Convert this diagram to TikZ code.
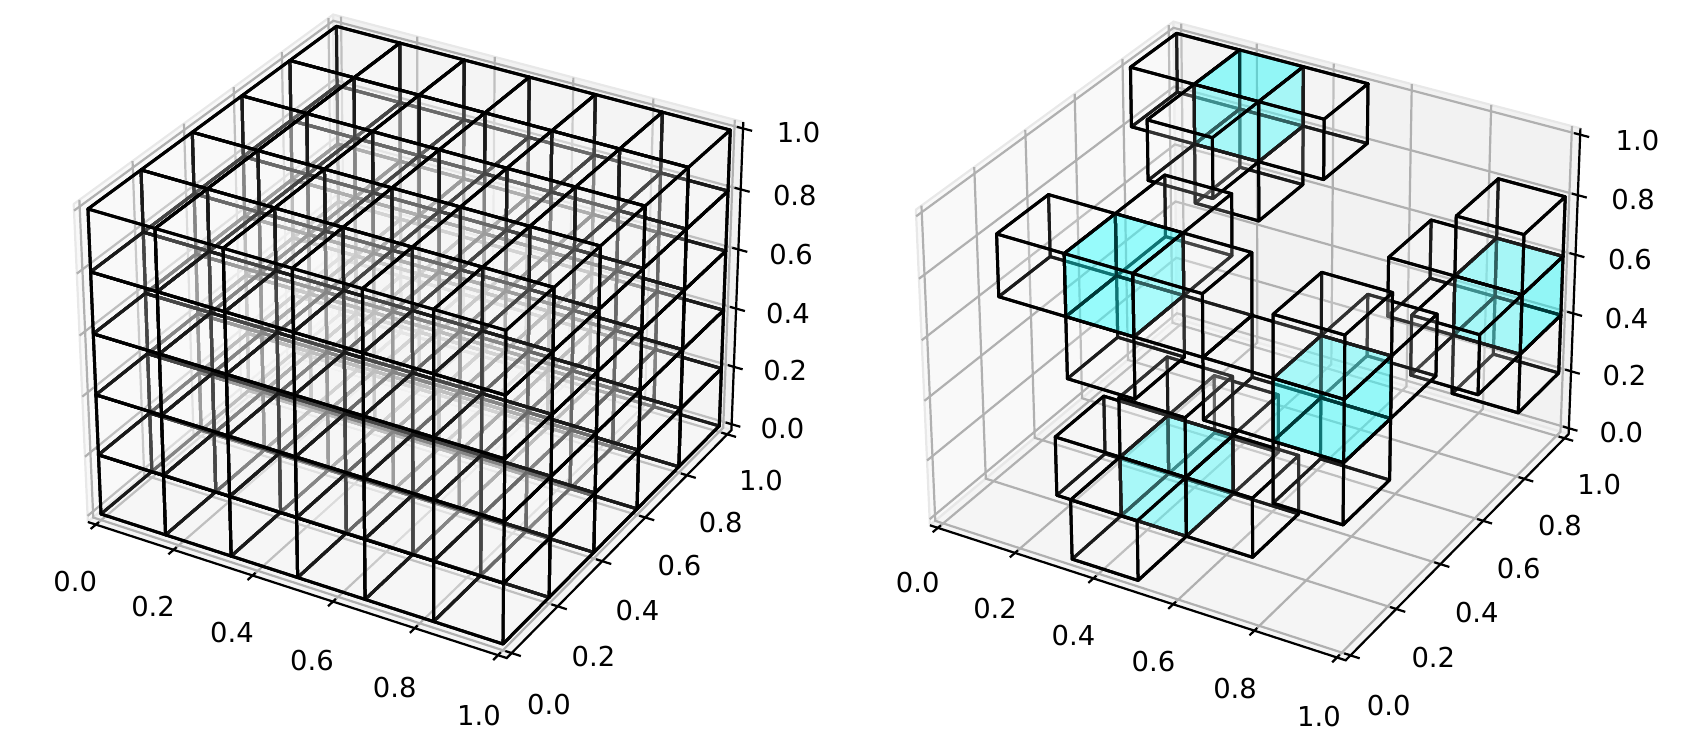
\documentclass[tikz,border=0pt]{standalone}
\usepackage{fontspec}
\setmainfont{DejaVu Sans}
\usepackage{xcolor}
\definecolor{ColPaneX}{RGB}{249,249,249}
\definecolor{ColPaneY}{RGB}{242,242,242}
\definecolor{ColPaneZ}{RGB}{245,245,245}
\definecolor{ColEdge}{RGB}{232,232,232}
\definecolor{ColGrid}{RGB}{176,176,176}
\definecolor{ColCyan}{RGB}{0,255,255}
\tikzstyle{PaneX}=[fill=ColPaneX,draw=ColEdge,line width=1.1pt,line join=round]
\tikzstyle{PaneY}=[fill=ColPaneY,draw=ColEdge,line width=1.1pt,line join=round]
\tikzstyle{PaneZ}=[fill=ColPaneZ,draw=ColEdge,line width=1.1pt,line join=round]
\tikzstyle{GridLine}=[draw=ColGrid,line width=1.1pt]
\tikzstyle{AxisLine}=[draw=black,line width=1.1pt]
\tikzstyle{TickLine}=[draw=black,line width=1.1pt]
\tikzstyle{TickLabel}=[font=\fontsize{13.7}{14}\selectfont,inner sep=0pt]
\tikzstyle{Cell}=[draw=black,line width=1.5pt,line join=round,fill=white,fill opacity=.1]
\tikzstyle{CellMid}=[draw=black,line width=1.5pt,line join=round,fill=ColCyan,fill opacity=.22]
\def\lo{-0.0208}
\def\hi{1.0208}
\newcommand{\SetPt}[4]{%
    \pgfmathsetmacro{\ww}{1-0.0421*#2+0.083*#3-0.0381*#4}%
    \pgfmathsetmacro{\px}{(101+380.8*#2+266.9*#3-16.4*#4)/\ww*\Sc+\Ox}%
    \pgfmathsetmacro{\py}{(514+102.9*#2-173.5*#3-313*#4)/\ww*\Sc+\Oy}%
    \coordinate (#1) at (\px,\py);}
\newcommand{\SetLattice}[1]{%
    \foreach \i in {0,...,6}{\foreach \j in {0,...,5}{\foreach \k in {0,...,5}{%
        \pgfmathsetmacro{\ux}{\i/6}\pgfmathsetmacro{\uy}{\j/5}\pgfmathsetmacro{\uz}{\k/5}%
        \SetPt{#1-\i-\j-\k}{\ux}{\uy}{\uz}}}}}
\newcommand{\DrawFrame}{%
    \SetPt{lll}{\lo}{\lo}{\lo}\SetPt{hll}{\hi}{\lo}{\lo}
    \SetPt{lhl}{\lo}{\hi}{\lo}\SetPt{hhl}{\hi}{\hi}{\lo}
    \SetPt{llh}{\lo}{\lo}{\hi}\SetPt{lhh}{\lo}{\hi}{\hi}
    \SetPt{hhh}{\hi}{\hi}{\hi}
    \draw[PaneX](lll)--(lhl)--(lhh)--(llh)--cycle;
    \draw[PaneY](lhl)--(hhl)--(hhh)--(lhh)--cycle;
    \draw[PaneZ](lll)--(hll)--(hhl)--(lhl)--cycle;
    \foreach \t in {0,0.2,0.4,0.6,0.8,1}{
        \SetPt{a}{\lo}{\t}{\hi}\SetPt{b}{\lo}{\t}{\lo}\SetPt{c}{\hi}{\t}{\lo}
        \draw[GridLine](a)--(b)--(c);
        \SetPt{a}{\t}{\hi}{\hi}\SetPt{b}{\t}{\hi}{\lo}\SetPt{c}{\t}{\lo}{\lo}
        \draw[GridLine](a)--(b)--(c);
        \SetPt{a}{\lo}{\lo}{\t}\SetPt{b}{\lo}{\hi}{\t}\SetPt{c}{\hi}{\hi}{\t}
        \draw[GridLine](a)--(b)--(c);
    }
    \draw[AxisLine](lll)--(hll)--(hhl)--(hhh);
    \foreach \t in {0,0.2,0.4,0.6,0.8,1}{
        \SetPt{a}{\t}{-0.009}{\lo}\SetPt{b}{\t}{-0.041}{\lo}
        \draw[TickLine](a)--(b);
        \SetPt{a}{1.0058}{\t}{\lo}\SetPt{b}{1.0428}{\t}{\lo}
        \draw[TickLine](a)--(b);
        \SetPt{a}{1.0058}{\hi}{\t}\SetPt{b}{1.0428}{\hi}{\t}
        \draw[TickLine](a)--(b);
    }}
\newcommand{\CellFaces}[5]{%
    \pgfmathtruncatemacro{\ia}{#2+1}\pgfmathtruncatemacro{\ja}{#3+1}\pgfmathtruncatemacro{\ka}{#4+1}%
    \draw[#5](#1-#2-\ja-#4)--(#1-\ia-\ja-#4)--(#1-\ia-\ja-\ka)--(#1-#2-\ja-\ka)--cycle;
    \draw[#5](#1-#2-#3-#4)--(#1-#2-\ja-#4)--(#1-#2-\ja-\ka)--(#1-#2-#3-\ka)--cycle;
    \draw[#5](#1-#2-#3-#4)--(#1-\ia-#3-#4)--(#1-\ia-\ja-#4)--(#1-#2-\ja-#4)--cycle;
    \draw[#5](#1-#2-#3-\ka)--(#1-\ia-#3-\ka)--(#1-\ia-\ja-\ka)--(#1-#2-\ja-\ka)--cycle;
    \draw[#5](#1-\ia-#3-#4)--(#1-\ia-\ja-#4)--(#1-\ia-\ja-\ka)--(#1-\ia-#3-\ka)--cycle;
    \draw[#5](#1-#2-#3-#4)--(#1-\ia-#3-#4)--(#1-\ia-#3-\ka)--(#1-#2-#3-\ka)--cycle;}
\begin{document}
\begin{tikzpicture}[x=.5pt,y=-.5pt]
    \path[use as bounding box](0,0)rectangle(1683,750);
    \def\Sc{1}\def\Ox{0}\def\Oy{0}
    \DrawFrame
    \SetLattice{L}
    \foreach \j in {4,3,2,1,0}{\foreach \k in {0,...,4}{\foreach \i in {0,...,5}{
        \CellFaces{L}{\i}{\j}{\k}{Cell}}}}
    \foreach \lab/\xx/\yy [count=\n] in {0.0/75.2/581.3,0.2/153.1/606.7,0.4/232/632.5,
        0.6/312/660.3,0.8/394.7/687.6,1.0/479/715.3}
        \node[TickLabel](Lx\n)at(\xx,\yy){\lab};
    \foreach \lab/\xx/\yy [count=\n] in {0.0/548.9/704.3,0.2/593.5/656.5,0.4/637.5/610.5,
        0.6/679.4/566,0.8/720.7/523,1.0/761/480.9}
        \node[TickLabel](Ly\n)at(\xx,\yy){\lab};
    \foreach \lab/\xx/\yy [count=\n] in {0.0/782.5/428.2,0.2/785.2/370.8,0.4/787.9/313.4,
        0.6/791.1/254.5,0.8/794.8/195.2,1.0/798.6/132.5}
        \node[TickLabel](Lz\n)at(\xx,\yy){\lab};
    \def\Sc{0.9925}\def\Ox{842.7}\def\Oy{7.2}
    \DrawFrame
    \SetLattice{R}
    \foreach \i/\j/\k/\kind in {1/4/3/Cell,0/4/4/Cell,1/4/4/CellMid,5/4/1/Cell,4/4/2/Cell,
        2/4/4/Cell,2/2/0/Cell,5/4/2/CellMid,1/3/4/Cell,1/1/0/Cell,5/4/3/Cell,2/1/0/CellMid,
        5/3/2/Cell,3/1/0/Cell,2/1/1/Cell,2/0/0/Cell,2/1/4/Cell,2/0/3/Cell,1/0/4/Cell,
        5/1/3/Cell,2/0/4/CellMid,5/0/2/Cell,4/0/3/Cell,3/0/4/Cell,5/0/3/CellMid,5/0/4/Cell}
        \CellFaces{R}{\i}{\j}{\k}{\kind};
    \foreach \lab/\xx/\yy [count=\n] in {0.0/917.7/582.8,0.2/995.1/608.6,0.4/1073.5/635.4,
        0.6/1153.5/661.7,0.8/1235.1/689,1.0/1318.9/716.3}
        \node[TickLabel](Rx\n)at(\xx,\yy){\lab};
    \foreach \lab/\xx/\yy [count=\n] in {0.0/1388.7/705.7,0.2/1433.3/657.9,0.4/1476.8/612.4,
        0.6/1518.7/568.4,0.8/1560/525.4,1.0/1599.2/484.2}
        \node[TickLabel](Ry\n)at(\xx,\yy){\lab};
    \foreach \lab/\xx/\yy [count=\n] in {0.0/1621.3/433,0.2/1624.5/375.6,0.4/1626.6/318.2,
        0.6/1629.9/259.8,0.8/1633.1/200,1.0/1637.4/140.2}
        \node[TickLabel](Rz\n)at(\xx,\yy){\lab};
\end{tikzpicture}
\end{document}
